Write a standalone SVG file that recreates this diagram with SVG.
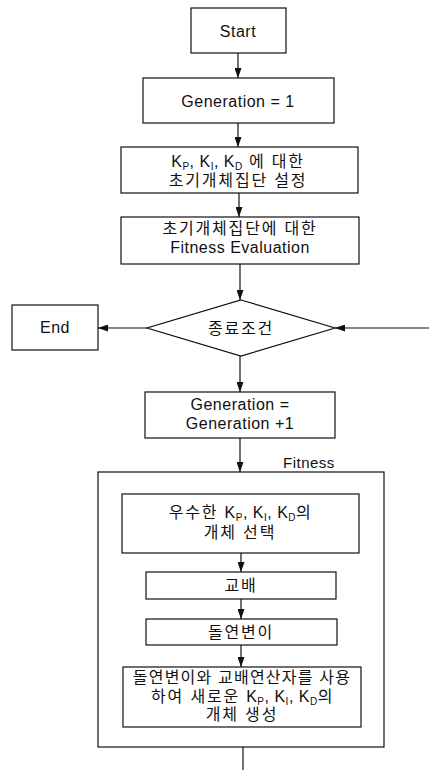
<svg xmlns="http://www.w3.org/2000/svg" width="429" height="770" viewBox="0 0 429 770">
<defs>
<marker id="ah" viewBox="0 0 10 7" refX="10" refY="3.5" markerWidth="10" markerHeight="7" markerUnits="userSpaceOnUse" orient="auto">
<path d="M0,0 L10,3.5 L0,7 Z" fill="#111"/>
</marker>
<style>
.box{fill:#fff;stroke:#111;stroke-width:1.2}
.t{font-family:"Liberation Sans","Noto Sans CJK KR",sans-serif;font-size:16px;fill:#111;text-anchor:middle;letter-spacing:0.5px}
.k{letter-spacing:1.8px}
.c{fill:none;stroke:#111;stroke-width:1.2}
.a{fill:none;stroke:#111;stroke-width:1.2;marker-end:url(#ah)}
.s{font-size:10px}
</style>
</defs>
<rect width="429" height="770" fill="#fff"/>
<g id="loop">
<rect class="box" x="98" y="472" width="286" height="275"/>
<text class="t" x="283" y="468" style="text-anchor:start;font-size:15px">Fitness</text>
</g>
<g id="connectors">
<line class="a" x1="238" y1="53" x2="238" y2="78"/>
<line class="a" x1="238" y1="123" x2="238" y2="147"/>
<line class="a" x1="239" y1="193" x2="239" y2="217"/>
<line class="a" x1="240" y1="264" x2="240" y2="300"/>
<line class="a" x1="147" y1="328" x2="98" y2="328"/>
<line class="a" x1="429" y1="328" x2="335" y2="328"/>
<line class="a" x1="240" y1="356" x2="240" y2="392"/>
<line class="a" x1="240" y1="438" x2="240" y2="472"/>
<line class="a" x1="241" y1="553" x2="241" y2="572"/>
<line class="a" x1="241" y1="599" x2="241" y2="619"/>
<line class="a" x1="241" y1="645" x2="241" y2="667"/>
<line class="c" x1="243" y1="747" x2="243" y2="770"/>
</g>
<g id="start">
<rect class="box" x="191" y="8" width="95" height="45"/>
<text class="t" x="238" y="37">Start</text>
</g>
<g id="gen1">
<rect class="box" x="143" y="78" width="191" height="45"/>
<text class="t" x="238" y="107">Generation = 1</text>
</g>
<g id="init">
<rect class="box" x="121" y="147" width="237" height="46"/>
<text class="t" x="238" y="167">K<tspan class="s" dy="3">P</tspan><tspan dy="-3">, K</tspan><tspan class="s" dy="3">I</tspan><tspan dy="-3">, K</tspan><tspan class="s" dy="3">D</tspan><tspan dy="-3" class="k"> 에 대한</tspan></text>
<text class="t k" x="238" y="186">초기개체집단 설정</text>
</g>
<g id="eval">
<rect class="box" x="121" y="217" width="238" height="47"/>
<text class="t k" x="240" y="234">초기개체집단에 대한</text>
<text class="t" x="240" y="253">Fitness Evaluation</text>
</g>
<g id="cond">
<polygon class="box" points="241,300 335,328 241,356 147,328"/>
<text class="t k" x="241" y="334">종료조건</text>
</g>
<g id="end">
<rect class="box" x="12" y="305" width="86" height="45"/>
<text class="t" x="55" y="333">End</text>
</g>
<g id="genplus">
<rect class="box" x="145" y="392" width="190" height="46"/>
<text class="t" x="240" y="410">Generation =</text>
<text class="t" x="240" y="429">Generation +1</text>
</g>
<g id="select">
<rect class="box" x="122" y="494" width="237" height="59"/>
<text class="t" x="240" y="518"><tspan class="k">우수한 </tspan>K<tspan class="s" dy="3">P</tspan><tspan dy="-3">, K</tspan><tspan class="s" dy="3">I</tspan><tspan dy="-3">, K</tspan><tspan class="s" dy="3">D</tspan><tspan dy="-3">의</tspan></text>
<text class="t k" x="240" y="538">개체 선택</text>
</g>
<g id="crossover">
<rect class="box" x="146" y="572" width="190" height="27"/>
<text class="t k" x="241" y="591">교배</text>
</g>
<g id="mutation">
<rect class="box" x="146" y="619" width="191" height="26"/>
<text class="t k" x="241" y="638">돌연변이</text>
</g>
<g id="generate">
<rect class="box" x="123" y="667" width="238" height="60"/>
<text class="t" x="242" y="683" style="letter-spacing:1.2px">돌연변이와 교배연산자를 사용</text>
<text class="t" x="242" y="702"><tspan class="k">하여 새로운 </tspan>K<tspan class="s" dy="3">P</tspan><tspan dy="-3">, K</tspan><tspan class="s" dy="3">I</tspan><tspan dy="-3">, K</tspan><tspan class="s" dy="3">D</tspan><tspan dy="-3">의</tspan></text>
<text class="t k" x="242" y="720">개체 생성</text>
</g>
</svg>
